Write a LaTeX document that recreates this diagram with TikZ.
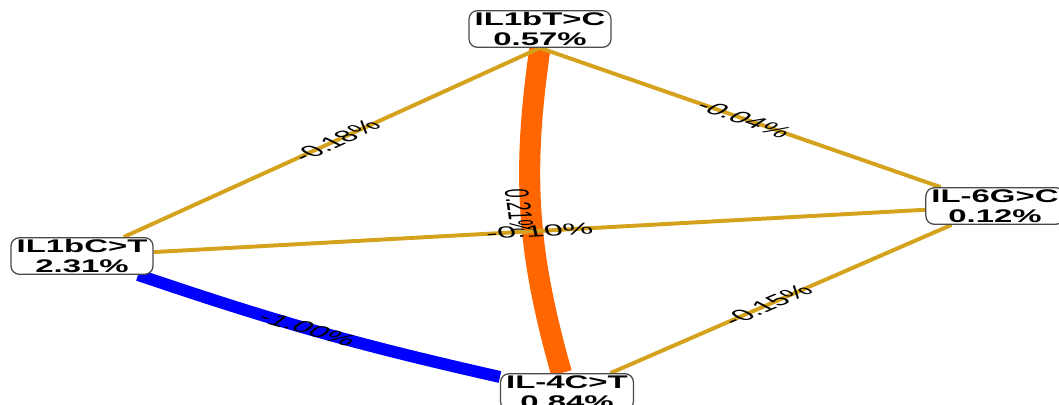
\documentclass[tikz,border=0pt]{standalone}
\usepackage{fontspec}
\usepackage{xcolor}
\usepackage{tikz}
\usetikzlibrary{calc}
\newfontfamily\boxfont[FakeStretch=1.8]{Liberation Sans}
\newfontfamily\pctfont{Liberation Sans}
\definecolor{goldx}{HTML}{D4A21C}
\definecolor{orangex}{HTML}{FF6600}
\definecolor{bluex}{HTML}{0000FF}
\definecolor{framex}{HTML}{4A4A4A}
\pgfdeclarelayer{bg}
\pgfsetlayers{bg,main}
\tikzset{
  snp/.style={draw=framex,line width=0.9pt,rounded corners=6pt,fill=white,align=center,
    inner xsep=4pt,inner ysep=1pt,minimum height=26pt,
    font=\boxfont\bfseries\fontsize{13}{14.5}\selectfont},
  weak/.style={goldx,line width=2.8pt},
  pct/.style={font=\pctfont\fontsize{11.5}{12}\selectfont,inner sep=0pt,xscale=2.1,text=black}
}

\begin{document}
\begin{tikzpicture}[x=0.025cm,y=-0.025cm]
\useasboundingbox (0,0) rectangle (1059,405);
\node[snp] (tc) at (540,29) {IL1bT>C\\0.57\%};
\node[snp] (ct) at (82,256) {IL1bC>T\\2.31\%};
\node[snp] (g6) at (995,206) {IL-6G>C\\0.12\%};
\node[snp] (c4) at (567,392) {IL-4C>T\\0.84\%};
\begin{pgfonlayer}{bg}
\draw[orangex,line width=15pt] (tc.south) to[bend right=12] node[xshift=-8pt,pct,pos=0.5,rotate=-86] (e6) {0.21\%} (c4);
\draw[bluex,line width=8.5pt] (ct) to[bend right=3] node[pct,pos=0.47,rotate=-31] (e5) {-1.00\%} (c4);
\draw[weak] (tc.south) -- (ct) node[pct,pos=0.49,rotate=44] (e1) {-0.18\%};
\draw[weak] (tc.south) -- (g6) node[pct,pos=0.51,rotate=-36] (e2) {-0.04\%};
\draw[weak] (ct) -- (g6) node[pct,pos=0.5,rotate=6.6] (e3) {-0.10\%};
\draw[weak] (c4) -- (g6) node[pct,pos=0.46,rotate=42] (e4) {-0.15\%};
\end{pgfonlayer}
\end{tikzpicture}
\end{document}
